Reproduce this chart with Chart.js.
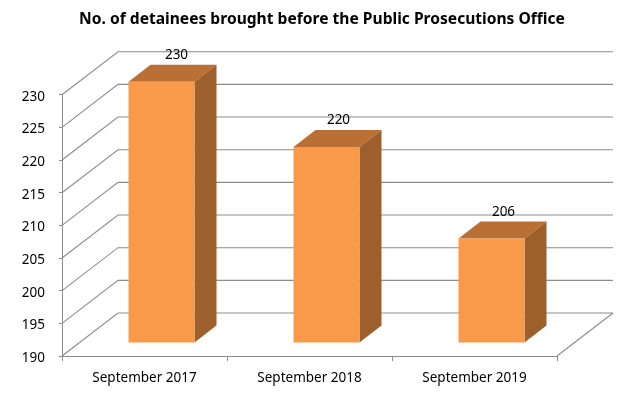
<!DOCTYPE html>
<html>
<head>
<meta charset="utf-8">
<style>html,body{margin:0;padding:0;background:#fff}canvas{display:block}</style>
<script src="https://cdn.jsdelivr.net/npm/chart.js@4"></script>
</head>
<body>
<canvas id="c" width="644" height="395"></canvas>
<script>
const categories = ["September 2017", "September 2018", "September 2019"];
const detainees = [230, 220, 206];
const chartTitle = "No. of detainees brought before the Public Prosecutions Office";
const valueLabelNudge = [15, 12, 12];

const wall = {dx: 56, dy: -43};
const barNear = {dx: 17, dy: -13};
const barDepth = {dx: 22, dy: -17};
const gridColor = "#8c8c8c";
const font = "'Noto Sans'";

const poly = (ctx, pts, fill) => {
  ctx.beginPath();
  pts.forEach((p, i) => i ? ctx.lineTo(p[0], p[1]) : ctx.moveTo(p[0], p[1]));
  ctx.closePath();
  ctx.fillStyle = fill;
  ctx.fill();
};

const box3d = {
  id: "box3d",
  beforeDatasetsDraw(chart) {
    const {ctx, chartArea: a, scales: {y}} = chart;
    ctx.save();
    ctx.strokeStyle = gridColor;
    ctx.lineWidth = 1.1;
    y.ticks.forEach(t => {
      const py = y.getPixelForValue(t.value);
      ctx.beginPath();
      ctx.moveTo(a.left, py);
      ctx.lineTo(a.left + wall.dx, py + wall.dy);
      ctx.lineTo(a.right + wall.dx, py + wall.dy);
      ctx.stroke();
    });
    ctx.beginPath();
    ctx.moveTo(a.right, a.bottom);
    ctx.lineTo(a.right + wall.dx, a.bottom + wall.dy);
    ctx.stroke();
    chart.getDatasetMeta(0).data.forEach(b => {
      const l = b.x - b.width / 2 + barNear.dx, r = b.x + b.width / 2 + barNear.dx;
      const t = b.y + barNear.dy, bt = b.base + barNear.dy;
      poly(ctx, [[l, t], [r, t], [r + barDepth.dx, t + barDepth.dy], [l + barDepth.dx, t + barDepth.dy]], "#BA7034");
      poly(ctx, [[r, t], [r + barDepth.dx, t + barDepth.dy], [r + barDepth.dx, bt + barDepth.dy], [r, bt]], "#9D602C");
    });
    ctx.restore();
    ctx.save();
    ctx.translate(barNear.dx, barNear.dy);
  },
  afterDatasetsDraw(chart) {
    const {ctx} = chart;
    ctx.restore();
    ctx.save();
    ctx.fillStyle = "#000";
    ctx.font = "13.5px " + font;
    ctx.textAlign = "center";
    ctx.textBaseline = "middle";
    chart.getDatasetMeta(0).data.forEach((b, i) => {
      ctx.fillText(detainees[i], b.x + barNear.dx + valueLabelNudge[i], b.y + barNear.dy - 26.5);
    });
    ctx.restore();
  }
};

new Chart(document.getElementById("c"), {
  type: "bar",
  data: {
    labels: categories,
    datasets: [{
      data: detainees,
      base: 190,
      backgroundColor: "#F9994A",
      borderWidth: 0,
      barPercentage: 0.4,
      categoryPercentage: 1,
      clip: false
    }]
  },
  options: {
    responsive: false,
    animation: false,
    layout: {padding: 0},
    plugins: {
      legend: {display: false},
      tooltip: {enabled: false},
      title: {
        display: true,
        text: chartTitle,
        color: "#000",
        font: {family: font, size: 15.6, weight: "bold"},
        padding: {top: 10, bottom: 66}
      }
    },
    scales: {
      x: {
        grid: {drawOnChartArea: false, drawTicks: true, tickLength: 5, color: gridColor},
        border: {display: true, color: gridColor},
        ticks: {color: "#000", font: {family: font, size: 13.5}, padding: 9, maxRotation: 0},
        afterFit(s) { s.height = 39; }
      },
      y: {
        min: 190,
        max: 230,
        grid: {drawOnChartArea: false, drawTicks: true, tickLength: 3, color: gridColor},
        border: {display: true, color: gridColor},
        ticks: {stepSize: 5, color: "#000", font: {family: font, size: 13.5}, padding: 14, labelOffset: 2},
        afterFit(s) { s.width = 62; }
      },
      rightGutter: {
        type: "linear",
        position: "right",
        grid: {display: false},
        border: {display: false},
        ticks: {display: false},
        afterFit(s) { s.width = 87; }
      }
    }
  },
  plugins: [box3d]
});
</script>
</body>
</html>
